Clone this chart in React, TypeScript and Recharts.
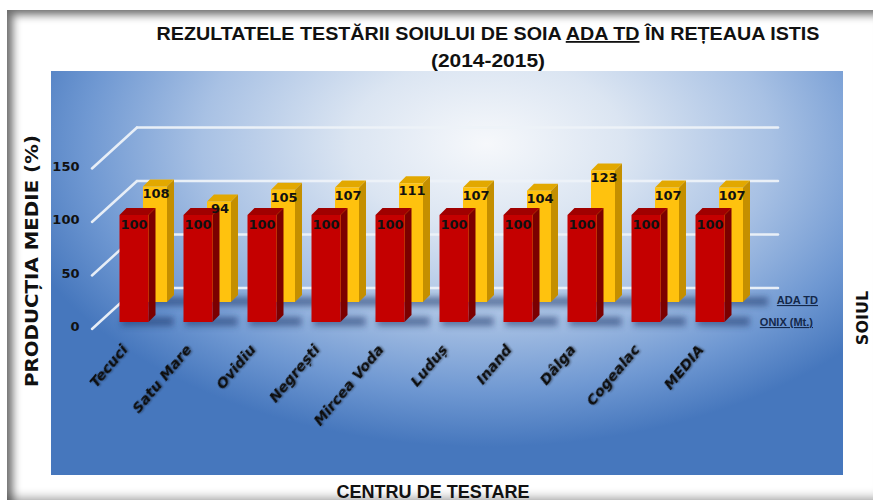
import { BarChart, Bar, XAxis, YAxis, CartesianGrid, LabelList } from "recharts";

// centre de testare + valorile (%) pentru cele doua soiuri
const centre = [
  "Tecuci",
  "Satu Mare",
  "Ovidiu",
  "Negrești",
  "Mircea Voda",
  "Luduș",
  "Inand",
  "Dâlga",
  "Cogealac",
  "MEDIA",
];
const onix = [100, 100, 100, 100, 100, 100, 100, 100, 100, 100];
const adaTd = [108, 94, 105, 107, 111, 107, 104, 123, 107, 107];
const yTicks = [0, 50, 100, 150];

const rows = centre.map((c, i) => ({ centru: c, onix: onix[i], ada: adaTd[i] }));

const BOLD = "'DejaVu Sans', Verdana, sans-serif";
const NARROW = "'Liberation Sans Narrow', 'Liberation Sans', Arial, sans-serif";

// adancimea fetei 3D a barelor si decalajul randului din spate
const D = 7;
const BACK_DX = 21.5;
const BACK_DY = -20;

function Box(props: any, front: string, side: string, top: string, ox: number, oy: number) {
  const { x, y, width: w, height: h } = props;
  if (w == null || h == null) return null;
  const X = x + ox;
  const Y = y + oy;
  return (
    <g>
      <rect
        x={X + 2}
        y={Y + h - 5}
        width={w + D + 16}
        height={9}
        fill="#1b3468"
        opacity={0.55}
        filter="url(#soft)"
      />
      <polygon
        points={`${X + w},${Y} ${X + w + D},${Y - D} ${X + w + D},${Y + h - D} ${X + w},${Y + h}`}
        fill={side}
      />
      <polygon
        points={`${X},${Y} ${X + D},${Y - D} ${X + w + D},${Y - D} ${X + w},${Y}`}
        fill={top}
      />
      <rect x={X} y={Y} width={w} height={h} fill={front} />
    </g>
  );
}

const RedShape = (p: any) => Box(p, "#c40000", "#7c0000", "#a00000", 0, 0);
const GoldShape = (p: any) => Box(p, "#ffc20e", "#c48f00", "#e2a800", BACK_DX, BACK_DY);

const RedLabel = (p: any) => (
  <text
    x={p.x + p.width / 2}
    y={p.y + 14}
    textAnchor="middle"
    fontFamily={BOLD}
    fontWeight="bold"
    fontSize={13}
    fill="#111"
  >
    {p.value}
  </text>
);

const GoldLabel = (p: any) => (
  <text
    x={p.x + p.width / 2 + BACK_DX + 1}
    y={p.y + BACK_DY + 12}
    textAnchor="middle"
    fontFamily={BOLD}
    fontWeight="bold"
    fontSize={13}
    fill="#111"
  >
    {p.value}
  </text>
);

const XTick = ({ x, y, payload }: any) => {
  const tx = x - 5;
  const ty = y - 10;
  return (
    <text
      x={tx}
      y={ty}
      transform={`rotate(-50 ${tx} ${ty})`}
      textAnchor="end"
      fontFamily={BOLD}
      fontWeight="bold"
      fontStyle="italic"
      fontSize={14.5}
      fill="#0d0d0d"
      filter="url(#halo)"
    >
      {payload.value}
    </text>
  );
};

const YTick = ({ x, y, payload }: any) => (
  <text
    x={x - 14}
    y={y + 9}
    textAnchor="end"
    fontFamily={BOLD}
    fontWeight="bold"
    fontSize={13}
    fill="#111"
  >
    {payload.value}
  </text>
);

// linie de grila: diagonala pe peretele lateral + linia de pe peretele din spate
const GridLine = (p: any) => {
  const { x1, x2, y1 } = p;
  return (
    <g key={p.key} stroke="#eef3f9" strokeWidth={2.5} strokeLinecap="round" opacity={0.95}>
      <line x1={x1 - 9.5} y1={y1 + 7} x2={x1 + 35.5} y2={y1 - 34} />
      <line x1={x1 + 35.5} y1={y1 - 34} x2={x2 + 36.5} y2={y1 - 34} />
    </g>
  );
};

export default function App() {
  return (
    <div
      style={{
        position: "relative",
        width: 873,
        height: 504,
        background: "#fff",
        overflow: "hidden",
      }}
    >
      <style>{"body{margin:0}"}</style>
      <svg width={0} height={0} style={{ position: "absolute" }}>
        <defs>
          <filter id="soft" x="-30%" y="-100%" width="160%" height="300%">
            <feGaussianBlur stdDeviation="3" />
          </filter>
          <filter id="halo" x="-20%" y="-50%" width="140%" height="200%">
            <feGaussianBlur in="SourceAlpha" stdDeviation="1.2" result="b" />
            <feOffset dx="1" dy="1" in="b" result="o" />
            <feComponentTransfer in="o" result="s">
              <feFuncA type="linear" slope="0.45" />
            </feComponentTransfer>
            <feMerge>
              <feMergeNode in="s" />
              <feMergeNode in="SourceGraphic" />
            </feMerge>
          </filter>
        </defs>
      </svg>
      <div
        style={{
          position: "absolute",
          left: 7,
          top: 10,
          right: -12,
          bottom: 4,
          boxShadow: "inset 6px 5px 9px rgba(0,0,0,0.55), inset -4px -4px 8px rgba(0,0,0,0.25)",
        }}
      />
      <div
        style={{
          position: "absolute",
          left: 51,
          top: 71,
          width: 792,
          height: 404,
          background:
            "radial-gradient(ellipse 62% 75% at 55% 18%, #f6f8fb 0%, #dbe5f2 28%, #a8c1e4 58%, #6f98d2 82%, #4677bd 100%)",
        }}
      />
      <div style={{ position: "absolute", left: 0, top: 0 }}>
        <BarChart
          width={873}
          height={504}
          data={rows}
          margin={{ top: 161.5, right: 131.5, bottom: 122, left: 41.5 }}
        >
          <CartesianGrid vertical={false} horizontal={GridLine} />
          <XAxis
            xAxisId="front"
            dataKey="centru"
            height={60}
            axisLine={false}
            tickLine={false}
            interval={0}
            tick={<XTick />}
          />
          <XAxis xAxisId="back" dataKey="centru" hide />
          <YAxis
            domain={[0, 150]}
            ticks={yTicks}
            width={60}
            axisLine={false}
            tickLine={false}
            tick={<YTick />}
          />
          <Bar
            xAxisId="back"
            dataKey="ada"
            barSize={24}
            shape={GoldShape}
            isAnimationActive={false}
          >
            <LabelList dataKey="ada" content={GoldLabel} />
          </Bar>
          <Bar
            xAxisId="front"
            dataKey="onix"
            barSize={29}
            shape={RedShape}
            isAnimationActive={false}
          >
            <LabelList dataKey="onix" content={RedLabel} />
          </Bar>
        </BarChart>
      </div>
      <svg
        width={873}
        height={504}
        style={{ position: "absolute", left: 0, top: 0, pointerEvents: "none" }}
      >
        <text
          x={488}
          y={40}
          textAnchor="middle"
          fontFamily={NARROW}
          fontWeight="bold"
          fontSize={18}
          textLength={663}
          lengthAdjust="spacingAndGlyphs"
          fill="#111"
        >
          REZULTATELE TESTĂRII SOIULUI DE SOIA{" "}
          <tspan textDecoration="underline">ADA TD</tspan> ÎN REȚEAUA ISTIS
        </text>
        <text
          x={488}
          y={67}
          textAnchor="middle"
          fontFamily={NARROW}
          fontWeight="bold"
          fontSize={19}
          textLength={114}
          lengthAdjust="spacingAndGlyphs"
          fill="#111"
        >
          (2014-2015)
        </text>
        <text
          x={38}
          y={261}
          transform="rotate(-90 38 261)"
          textAnchor="middle"
          fontFamily={BOLD}
          fontWeight="bold"
          fontSize={17}
          textLength={252}
          lengthAdjust="spacingAndGlyphs"
          fill="#111"
        >
          PRODUCȚIA MEDIE (%)
        </text>
        <text
          x={868}
          y={318}
          transform="rotate(-90 868 318)"
          textAnchor="middle"
          fontFamily={BOLD}
          fontWeight="bold"
          fontSize={16}
          fill="#111"
        >
          SOIUL
        </text>
        <text
          x={433}
          y={498}
          textAnchor="middle"
          fontFamily={NARROW}
          fontWeight="bold"
          fontSize={19}
          textLength={193}
          lengthAdjust="spacingAndGlyphs"
          fill="#111"
        >
          CENTRU DE TESTARE
        </text>
        <text
          x={818}
          y={304}
          textAnchor="end"
          fontFamily={NARROW}
          fontWeight="bold"
          fontSize={11}
          textDecoration="underline"
          fill="#14284a"
        >
          ADA TD
        </text>
        <text
          x={813}
          y={326}
          textAnchor="end"
          fontFamily={NARROW}
          fontWeight="bold"
          fontSize={11}
          textDecoration="underline"
          fill="#14284a"
        >
          ONIX (Mt.)
        </text>
      </svg>
    </div>
  );
}
